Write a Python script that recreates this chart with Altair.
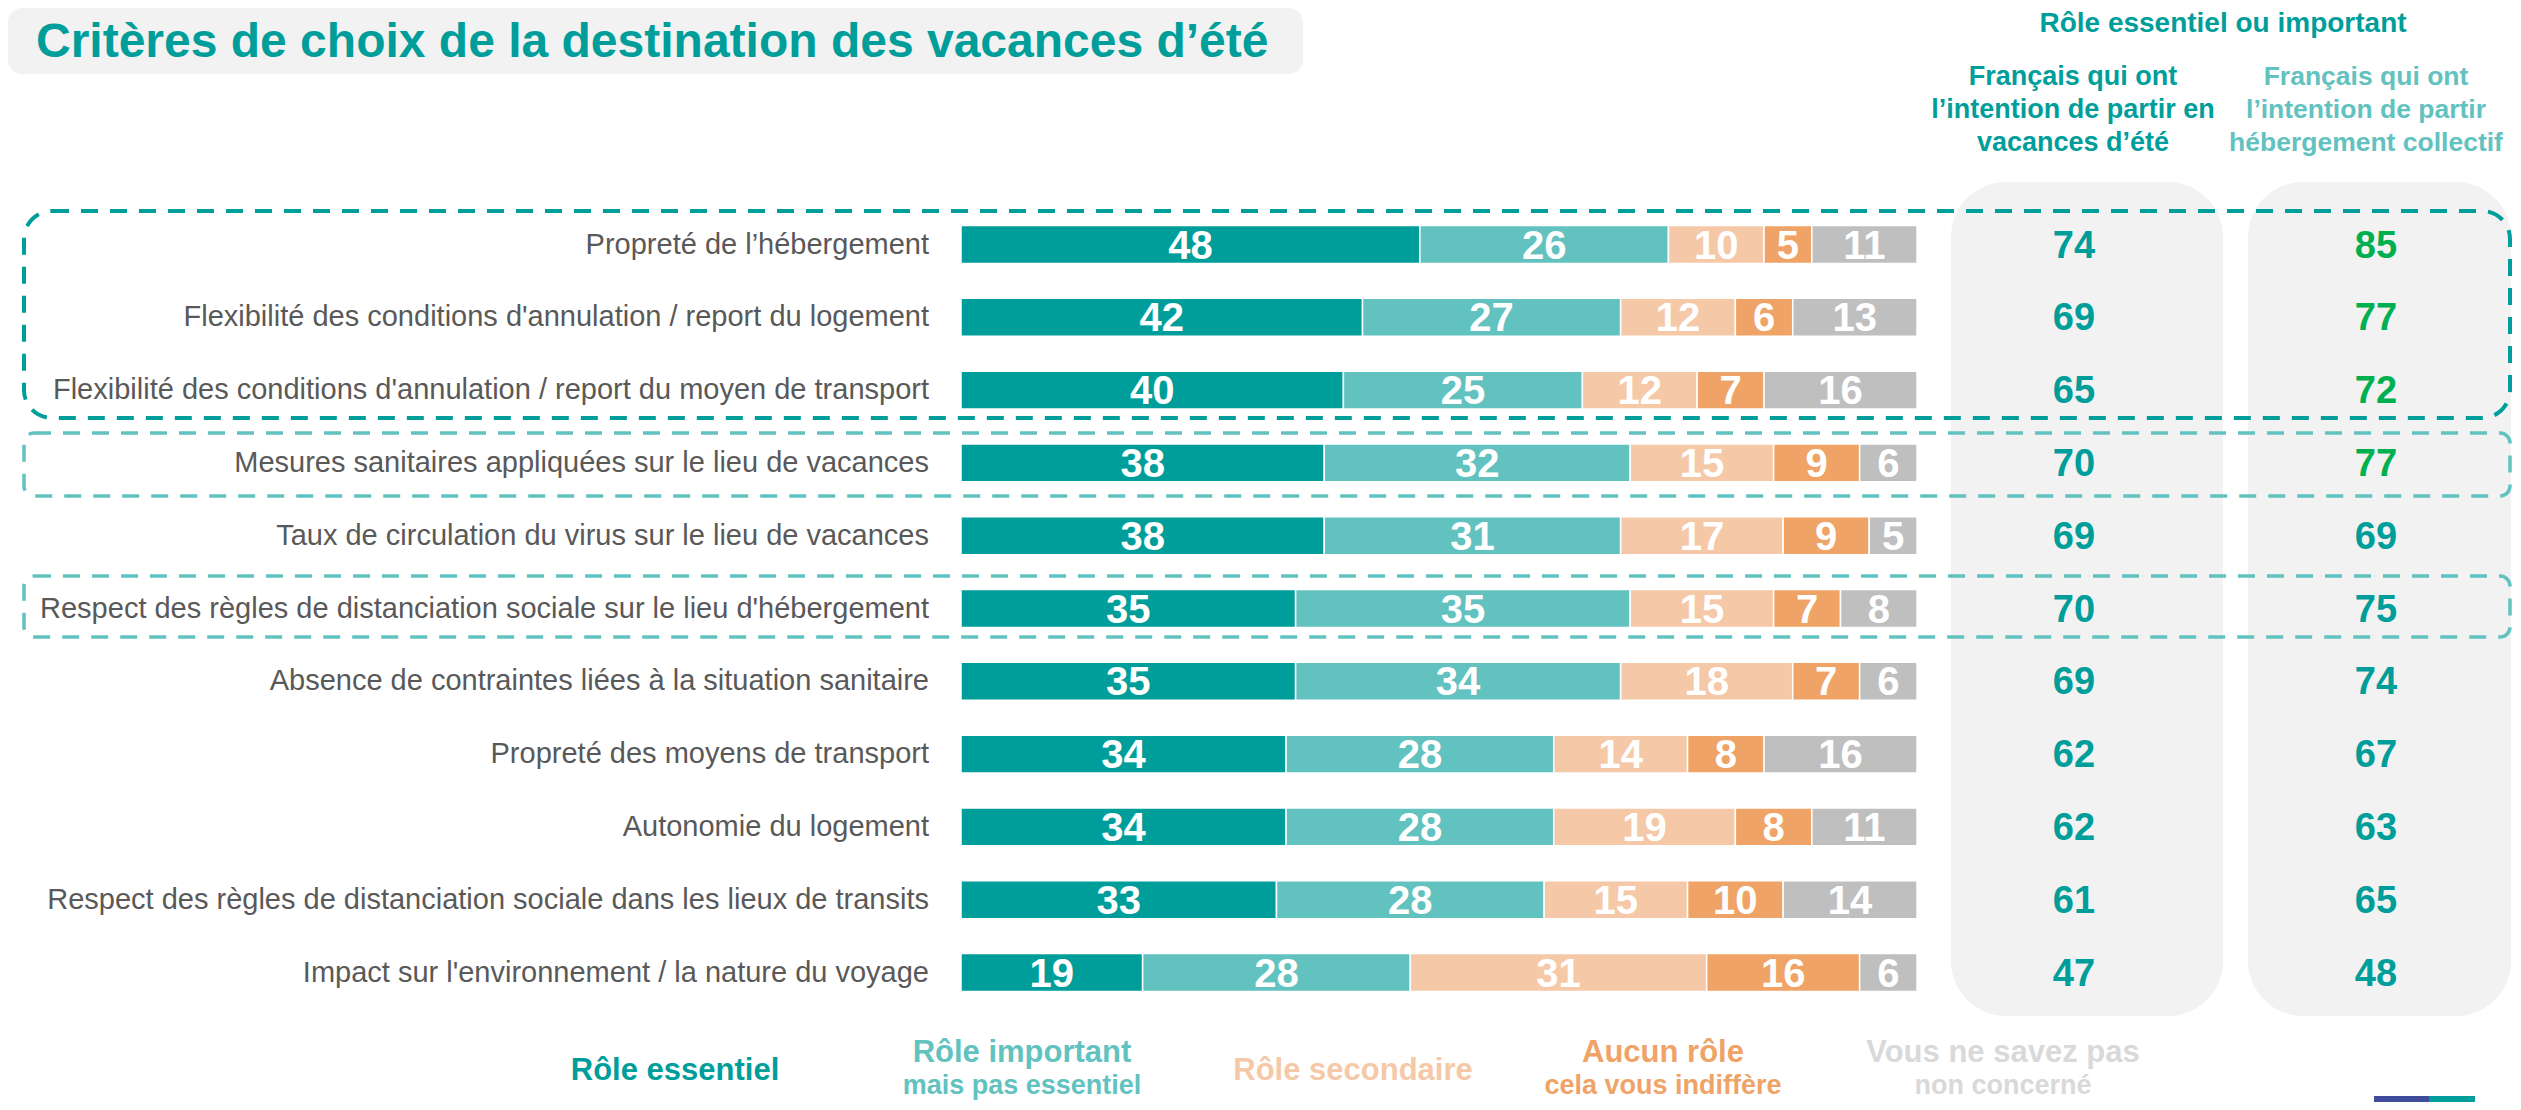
import altair as alt
import pandas as pd

# ---------------- data ----------------
criteres = [
    "Propreté de l’hébergement",
    "Flexibilité des conditions d'annulation / report du logement",
    "Flexibilité des conditions d'annulation / report du moyen de transport",
    "Mesures sanitaires appliquées sur le lieu de vacances",
    "Taux de circulation du virus sur le lieu de vacances",
    "Respect des règles de distanciation sociale sur le lieu d'hébergement",
    "Absence de contraintes liées à la situation sanitaire",
    "Propreté des moyens de transport",
    "Autonomie du logement",
    "Respect des règles de distanciation sociale dans les lieux de transits",
    "Impact sur l'environnement / la nature du voyage",
]
essentiel = [48, 42, 40, 38, 38, 35, 35, 34, 34, 33, 19]
important = [26, 27, 25, 32, 31, 35, 34, 28, 28, 28, 28]
secondaire = [10, 12, 12, 15, 17, 15, 18, 14, 19, 15, 31]
aucun = [5, 6, 7, 9, 9, 7, 7, 8, 8, 10, 16]
ne_sait_pas = [11, 13, 16, 6, 5, 8, 6, 16, 11, 14, 6]

vacances_ete = [74, 69, 65, 70, 69, 70, 69, 62, 62, 61, 47]
hebergement_collectif = [85, 77, 72, 77, 69, 75, 74, 67, 63, 65, 48]
collectif_vert = [True, True, True, True, False, False, False, False, False, False, False]

categories = ["Rôle essentiel", "Rôle important", "Rôle secondaire", "Aucun rôle", "Vous ne savez pas"]
sous_titres = ["", "mais pas essentiel", "", "cela vous indiffère", "non concerné"]

titre = "Critères de choix de la destination des vacances d’été"
entete = "Rôle essentiel ou important"
entete_col1 = ["Français qui ont", "l’intention de partir en", "vacances d’été"]
entete_col2 = ["Français qui ont", "l’intention de partir", "hébergement collectif"]

# ---------------- styles ----------------
TEAL = "#009E9A"
LTEAL = "#62C2C0"
PEACH = "#F5C9A7"
ORANGE = "#EFA366"
GREY = "#BFBFBF"
GREEN = "#00B050"
PANEL = "#F2F2F2"
FONT = "Liberation Sans"
bar_colors = [TEAL, LTEAL, PEACH, ORANGE, GREY]
legend_colors = [TEAL, LTEAL, PEACH, ORANGE, "#D9D9D9"]

W, H = 2505, 1094
x_bar = alt.Scale(domain=[0, 100], range=[953, 1909], nice=False, zero=False)
y_row = alt.Scale(domain=[0, 10], range=[236.5, 964.5], nice=False, zero=False)
HALF = 0.26

# ---------------- tables ----------------
series = [essentiel, important, secondaire, aucun, ne_sait_pas]
seg_rows = []
for i in range(len(criteres)):
    start = 0
    for k, s in enumerate(series):
        v = s[i]
        seg_rows.append(dict(row=i, cat=categories[k], v=v, x0=start, x1=start + v,
                             mid=start + v / 2, y0=i - HALF, y1=i + HALF))
        start += v
segs = pd.DataFrame(seg_rows)

rows = pd.DataFrame({
    "row": list(range(len(criteres))),
    "critere": criteres,
    "v1": vacances_ete,
    "v2": hebergement_collectif,
    "c2": [GREEN if g else TEAL for g in collectif_vert],
})
one = pd.DataFrame({"a": [0]})


def rect(x1, x2, y1, y2, **kw):
    return alt.Chart(one).mark_rect(**kw).encode(
        x=alt.value(x1), x2=alt.value(x2), y=alt.value(y1), y2=alt.value(y2))


def label(text, x, y, **kw):
    return alt.Chart(one).mark_text(text=text, font=FONT, **kw).encode(
        x=alt.value(x), y=alt.value(y))


layers = []
# title
layers.append(rect(0, 1295, 0, 66, fill=PANEL, cornerRadius=14))
layers.append(label(titre, 28, 49, fontSize=48, fontWeight="bold", color=TEAL,
                    align="left", baseline="alphabetic"))
# grey panels
layers.append(rect(1943, 2215, 174, 1008, fill=PANEL, cornerRadius=55))
layers.append(rect(2240, 2503, 174, 1008, fill=PANEL, cornerRadius=55))
# dashed boxes
layers.append(rect(16, 2502, 203, 410, fillOpacity=0, stroke=TEAL, strokeWidth=4,
                   strokeDash=[17, 12], cornerRadius=28))
layers.append(rect(16, 2502, 425, 488, fillOpacity=0, stroke=LTEAL, strokeWidth=3.5,
                   strokeDash=[17, 12], cornerRadius=10))
layers.append(rect(16, 2502, 568, 629, fillOpacity=0, stroke=LTEAL, strokeWidth=3.5,
                   strokeDash=[17, 12], cornerRadius=10))

# bars
layers.append(alt.Chart(segs).mark_rect(stroke="white", strokeWidth=1.5).encode(
    x=alt.X("x0:Q", scale=x_bar, axis=None), x2="x1:Q",
    y=alt.Y("y0:Q", scale=y_row, axis=None), y2="y1:Q",
    color=alt.Color("cat:N", scale=alt.Scale(domain=categories, range=bar_colors), legend=None),
))
layers.append(alt.Chart(segs).mark_text(font=FONT, fontSize=40, fontWeight="bold", color="white",
                                        align="center", baseline="middle", dy=2).encode(
    x=alt.X("mid:Q", scale=x_bar, axis=None),
    y=alt.Y("row:Q", scale=y_row, axis=None),
    text="v:Q",
))
# row labels
layers.append(alt.Chart(rows).mark_text(font=FONT, fontSize=29, color="#595959",
                                        align="right", baseline="middle").encode(
    x=alt.value(921), y=alt.Y("row:Q", scale=y_row, axis=None), text="critere:N"))
# side columns
layers.append(alt.Chart(rows).mark_text(font=FONT, fontSize=38, fontWeight="bold", color=TEAL,
                                        align="center", baseline="middle", dy=2).encode(
    x=alt.value(2066), y=alt.Y("row:Q", scale=y_row, axis=None), text="v1:Q"))
layers.append(alt.Chart(rows).mark_text(font=FONT, fontSize=38, fontWeight="bold",
                                        align="center", baseline="middle", dy=2).encode(
    x=alt.value(2368), y=alt.Y("row:Q", scale=y_row, axis=None), text="v2:Q",
    color=alt.Color("c2:N", scale=None)))
# headers
layers.append(label(entete, 2215, 24, fontSize=28, fontWeight="bold", color=TEAL,
                    align="center", baseline="alphabetic"))
layers.append(label(entete_col1, 2065, 77, fontSize=27, fontWeight="bold", color=TEAL,
                    align="center", baseline="alphabetic", lineHeight=33))
layers.append(label(entete_col2, 2358, 77, fontSize=26.5, fontWeight="bold", color=LTEAL,
                    align="center", baseline="alphabetic", lineHeight=33))
# legend
legend_x = [667, 1014, 1345, 1655, 1995]
for k, cat in enumerate(categories):
    if sous_titres[k]:
        layers.append(label(cat, legend_x[k], 1045, fontSize=31, fontWeight="bold",
                            color=legend_colors[k], align="center", baseline="middle"))
        layers.append(label(sous_titres[k], legend_x[k], 1078, fontSize=27, fontWeight="bold",
                            color=legend_colors[k], align="center", baseline="middle"))
    else:
        layers.append(label(cat, legend_x[k], 1063, fontSize=31, fontWeight="bold",
                            color=legend_colors[k], align="center", baseline="middle"))
# small logo strip
layers.append(rect(2366, 2421, 1088, 1094, fill="#3F4B9B"))
layers.append(rect(2421, 2467, 1088, 1094, fill=TEAL))

chart = alt.layer(*layers).properties(
    width=W, height=H, autosize=alt.AutoSizeParams(type="none"), padding=0
).configure_view(stroke=None)

chart.save("out.html", embed_options={"renderer": "svg", "actions": False})
